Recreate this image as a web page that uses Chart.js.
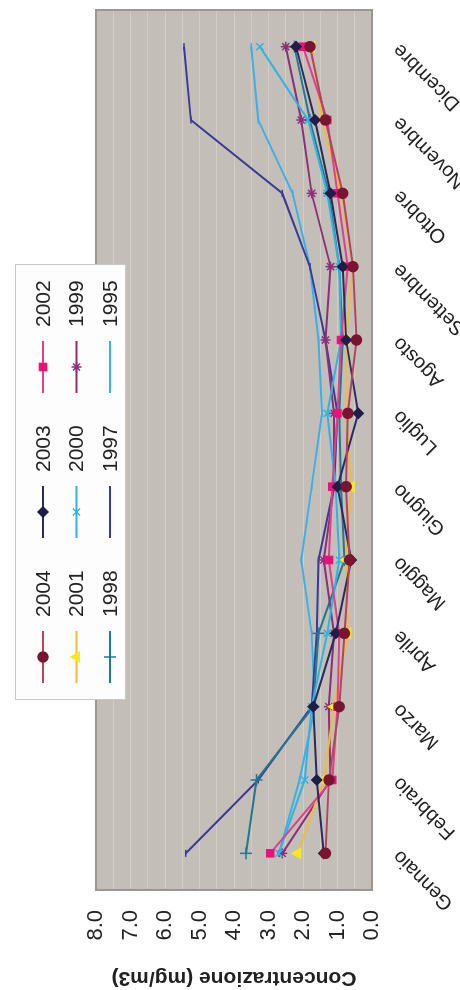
<!DOCTYPE html>
<html>
<head>
<meta charset="utf-8">
<script src="https://cdn.jsdelivr.net/npm/chart.js@4.4.1/dist/chart.umd.min.js"></script>
<style>
  html, body { margin: 0; padding: 0; background: #fff; overflow: hidden; }
  /* the chart is laid out landscape, then turned a quarter to the left */
  #wrap {
    position: absolute; left: 0; top: 0;
    width: 990px; height: 460px;
    transform-origin: 0 0;
    transform: translateY(990px) rotate(-90deg);
  }
</style>
</head>
<body>
<div id="wrap"><canvas id="chart" width="990" height="460"></canvas></div>
<script>
/* ── data ── */
var MONTHS = ['Gennaio', 'Febbraio', 'Marzo', 'Aprile', 'Maggio', 'Giugno',
              'Luglio', 'Agosto', 'Settembre', 'Ottobre', 'Novembre', 'Dicembre'];
var YEARS = ['2004', '2003', '2002', '2001', '2000', '1999', '1998', '1997', '1995'];

var Y2004 = [1.35, 1.25, 0.95, 0.80, 0.65, 0.75, 0.70, 0.45, 0.55, 0.85, 1.35, 1.80];
var Y2003 = [1.40, 1.60, 1.70, 1.05, 0.60, 1.00, 0.40, 0.75, 0.85, 1.20, 1.65, 2.20];
var Y2002 = [2.95, 1.15, 1.00, 0.95, 1.25, 1.15, 1.00, 0.90, 0.70, 1.00, 1.30, 2.00];
var Y2001 = [2.15, 1.40, 1.10, 0.70, 0.75, 0.60, 0.75, 0.75, 0.55, 0.90, 1.45, 1.75];
var Y2000 = [2.70, 1.95, 1.75, 1.30, 0.95, 1.05, 1.30, 0.90, 0.95, 1.30, 1.85, 3.25];
var Y1999 = [2.60, 1.20, 1.25, 1.10, 1.40, 1.10, 1.10, 1.35, 1.20, 1.75, 2.05, 2.50];
var Y1998 = [3.65, 3.35, 1.70, 1.55, 0.80, 0.90, 0.95, 0.85, 0.95, 1.25, 1.80, 2.25];
var Y1997 = [5.40, 3.30, 1.75, 1.60, 1.55, 1.10, 1.00, 1.35, 1.80, 2.60, 5.25, 5.45];
var Y1995 = [2.70, 2.10, 1.65, 1.75, 2.05, 1.75, 1.45, 1.55, 1.80, 2.30, 3.30, 3.50];
var VALUES = [Y2004, Y2003, Y2002, Y2001, Y2000, Y1999, Y1998, Y1997, Y1995];

var Y_MIN = 0, Y_MAX = 8, Y_STEP = 0.5;
var Y_TITLE = 'Concentrazione (mg/m3)';

/* ── look ── */
var FONT = "'Liberation Sans', Arial, sans-serif";
var PLOT_BG = '#c4beb8';
var STYLES = [
  { line: '#b04462', fill: '#7a1433', shape: 'circle',   r: 5 },
  { line: '#2a2a5c', fill: '#1e1e48', shape: 'rectRot',  r: 5 },
  { line: '#e0408a', fill: '#e8127a', shape: 'rect',     r: 5 },
  { line: '#efbc3a', fill: '#f8e820', shape: 'triangle', r: 5.5 },
  { line: '#2eb4e0', fill: '#2eb4e0', shape: 'crossRot', r: 5 },
  { line: '#8c2e78', fill: '#8c2e78', shape: 'star',     r: 5 },
  { line: '#22788e', fill: '#22788e', shape: 'cross',    r: 6 },
  { line: '#3a3a96', fill: '#3a3a96', shape: 'line',     r: 3.5 },
  { line: '#3ab0e6', fill: '#3ab0e6', shape: 'line',     r: 3.5 },
];

var datasets = YEARS.map(function (y, i) {
  var s = STYLES[i];
  return {
    label: y,
    data: VALUES[i],
    borderColor: s.line,
    borderWidth: 2,
    pointStyle: s.shape,
    pointRadius: s.r,
    pointBackgroundColor: s.fill,
    pointBorderColor: s.fill,
    pointBorderWidth: 1.5,
    tension: 0,
  };
});

/* plot background + frame */
var plotFrame = {
  id: 'plotFrame',
  beforeDraw: function (chart) {
    var a = chart.chartArea, ctx = chart.ctx;
    ctx.save();
    ctx.fillStyle = PLOT_BG;
    ctx.fillRect(a.left, a.top, a.right - a.left, a.bottom - a.top);
    ctx.restore();
  },
  afterDatasetsDraw: function (chart) {
    var a = chart.chartArea, ctx = chart.ctx;
    ctx.save();
    ctx.strokeStyle = '#9a9692';
    ctx.lineWidth = 2;
    ctx.strokeRect(a.left, a.top, a.right - a.left, a.bottom - a.top);
    ctx.restore();
  }
};

/* floating legend box, 3 x 3, lying over the top of the plot */
var boxLegend = {
  id: 'boxLegend',
  afterDraw: function (chart) {
    var ctx = chart.ctx;
    var bx = 290, by = 15, bw = 435, bh = 110;
    ctx.save();
    ctx.fillStyle = '#fdfdfd';
    ctx.fillRect(bx, by, bw, bh);
    ctx.strokeStyle = '#c8c8c8';
    ctx.lineWidth = 1;
    ctx.strokeRect(bx + 0.5, by + 0.5, bw, bh);
    chart.data.datasets.forEach(function (ds, i) {
      var cx = bx + 43 + (i % 3) * 145;
      var cy = by + 28 + Math.floor(i / 3) * 33.5;
      ctx.strokeStyle = ds.borderColor;
      ctx.lineWidth = ds.borderWidth;
      ctx.beginPath();
      ctx.moveTo(cx - 26, cy);
      ctx.lineTo(cx + 26, cy);
      ctx.stroke();
      ctx.fillStyle = ds.pointBackgroundColor;
      ctx.strokeStyle = ds.pointBorderColor;
      ctx.lineWidth = ds.pointBorderWidth;
      Chart.helpers.drawPoint(ctx, {
        pointStyle: ds.pointStyle, radius: ds.pointRadius,
        rotation: 0, borderWidth: ds.pointBorderWidth
      }, cx, cy);
      ctx.fillStyle = '#222';
      ctx.font = '21px ' + FONT;
      ctx.textBaseline = 'middle';
      ctx.textAlign = 'left';
      ctx.fillText(ds.label, cx + 40, cy + 1);
    });
    ctx.restore();
  }
};

new Chart(document.getElementById('chart'), {
  type: 'line',
  data: { labels: MONTHS, datasets: datasets },
  plugins: [plotFrame, boxLegend],
  options: {
    responsive: false,
    animation: false,
    devicePixelRatio: 1,
    layout: { padding: { top: 96, right: 10, left: 0, bottom: 0 } },
    scales: {
      x: {
        type: 'category',
        offset: true,
        afterFit: function (s) { s.height = 88; },
        grid: { display: false, drawTicks: false },
        border: { display: true, color: '#8a8682', width: 2 },
        ticks: {
          minRotation: 45, maxRotation: 45, autoSkip: false, padding: 16,
          color: '#222', font: { family: FONT, size: 20 }
        }
      },
      y: {
        min: Y_MIN, max: Y_MAX,
        afterFit: function (s) { s.width = 100; },
        grid: { color: '#d2cdc8', lineWidth: 1, drawTicks: false },
        border: { display: false },
        ticks: {
          stepSize: Y_STEP, autoSkip: false, padding: 20,
          color: '#222', font: { family: FONT, size: 22 },
          callback: function (v) { return v % 1 === 0 ? v.toFixed(1) : ''; }
        },
        title: {
          display: true, text: Y_TITLE, color: '#222', padding: 0,
          font: { family: FONT, size: 21, weight: 'bold' }
        }
      }
    },
    plugins: {
      legend: { display: false },
      tooltip: { enabled: false }
    }
  }
});
</script>
</body>
</html>
